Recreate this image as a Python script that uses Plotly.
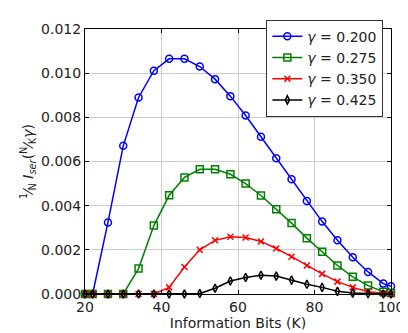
import plotly.graph_objects as go

info_bits = [20, 22, 26, 30, 34, 38, 42, 46, 50, 54, 58, 62, 66, 70, 74, 78, 82, 86, 90, 94, 98, 100]

g200 = [0, 0, 0.00324, 0.00671, 0.00890, 0.01011, 0.01065, 0.01065, 0.01030, 0.00973, 0.00896,
        0.00808, 0.00712, 0.00615, 0.00520, 0.00421, 0.00328, 0.00243, 0.00166, 0.00100, 0.00047, 0.00035]
g275 = [0, 0, 0, 0, 0.00115, 0.00310, 0.00447, 0.00528, 0.00565, 0.00565, 0.00542,
        0.00500, 0.00446, 0.00384, 0.00321, 0.00253, 0.00191, 0.00129, 0.00078, 0.00038, 0.00010, 0.00005]
g350 = [0, 0, 0, 0, 0, 0, 0.00030, 0.00122, 0.00200, 0.00243, 0.00259,
        0.00256, 0.00238, 0.00206, 0.00169, 0.00129, 0.00091, 0.00056, 0.00030, 0.00010, 0.00002, 0]
g425 = [0, 0, 0, 0, 0, 0, 0, 0, 0.00002, 0.00026, 0.00059,
        0.00075, 0.00085, 0.00081, 0.00063, 0.00044, 0.00030, 0.00012, 0.00004, 0.00001, 0, 0]

series = [
    ("0.200", g200, "#0000ff", "circle-open", 7),
    ("0.275", g275, "#008000", "square-open", 7),
    ("0.350", g350, "#ff0000", "x-thin-open", 6),
    ("0.425", g425, "#000000", "diamond-tall-open", 6),
]

fig = go.Figure()
for lab, ys, col, sym, sz in series:
    fig.add_trace(go.Scatter(
        x=info_bits, y=ys, mode="lines+markers",
        name="<i>γ</i> = " + lab,
        line=dict(color=col, width=1.5),
        marker=dict(symbol=sym, size=sz, color=col, line=dict(color=col, width=1.5)),
        cliponaxis=False,
    ))

font = "DejaVu Sans"
fig.update_layout(
    width=408, height=333,
    margin=dict(l=77, r=15, t=14, b=47),
    paper_bgcolor="white", plot_bgcolor="white",
    font=dict(family=font, size=14, color="#222"),
    showlegend=True,
    legend=dict(x=0.975, y=1.035, xanchor="right", yanchor="top",
                bgcolor="white", bordercolor="#333", borderwidth=1,
                font=dict(size=14), tracegroupgap=0, itemwidth=30),
)
fig.update_xaxes(
    range=[20, 100], tickvals=[20, 40, 60, 80, 100],
    showgrid=True, gridcolor="#cccccc", gridwidth=1,
    showline=True, linecolor="black", linewidth=1, mirror="ticks",
    ticks="inside", ticklen=4, tickcolor="black",
    zeroline=False,
    title=dict(text="Information Bits (K)", font=dict(size=14), standoff=3),
)
fig.update_yaxes(
    range=[0, 0.012], tickvals=[0, 0.002, 0.004, 0.006, 0.008, 0.010, 0.012],
    tickformat=".3f",
    showgrid=True, gridcolor="#cccccc", gridwidth=1,
    showline=True, linecolor="black", linewidth=1, mirror="ticks",
    ticks="inside", ticklen=4, tickcolor="black",
    zeroline=False,
    title=dict(text="<sup>1</sup>⁄<sub>N</sub> <i>I</i><sub><i>ser</i></sub>(<sup>N</sup>⁄<sub>K</sub><i>γ</i>)",
               font=dict(size=14), standoff=4),
)
fig.write_html("out.html")
